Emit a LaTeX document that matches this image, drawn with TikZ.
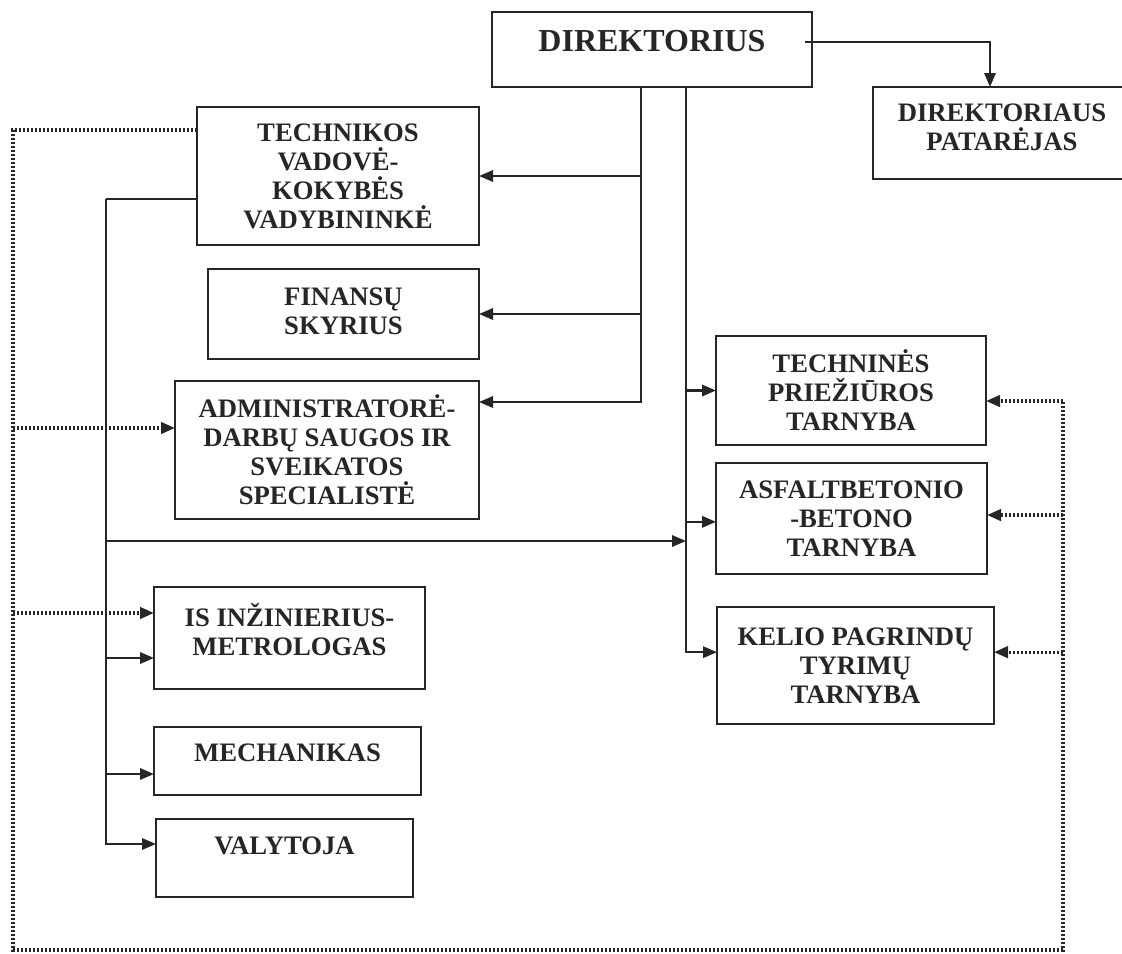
\documentclass[tikz,border=0pt]{standalone}
\usepackage{fontspec}
\setmainfont{Liberation Serif}
\usetikzlibrary{arrows.meta}
\definecolor{ink}{RGB}{38,38,38}
\begin{document}
\begin{tikzpicture}[x=0.75pt,y=-0.75pt,
  box/.style 2 args={draw=ink, line width=1.8pt, minimum width=#1*0.75pt, minimum height=#2*0.75pt, inner sep=0pt, outer sep=0pt},
  txt/.style={font=\bfseries\fontsize{20}{21.75}\selectfont, text=ink, align=center, inner sep=0pt},
  bigtxt/.style={font=\bfseries\fontsize{24}{26}\selectfont, text=ink, align=center, inner sep=0pt},
  conn/.style={draw=ink, line width=1.7pt},
  arr/.style={conn, -{Triangle[length=10.5pt,width=8.5pt]}},
  dotl/.style={draw=ink, line width=2.4pt, dash pattern=on 1.7pt off 1.3pt},
  dotarr/.style={dotl, -{Triangle[length=10.5pt,width=8.5pt]}},
]
\path[use as bounding box, fill=white] (0,0) rectangle (1122,954);

% boxes
\node[box={320}{75}, label={[bigtxt,yshift=6pt]center:DIREKTORIUS}] (dir) at (652,49.5) {};
\node[box={250}{92}, label={[txt,xshift=3pt,yshift=4pt]center:{DIREKTORIAUS\\PATARĖJAS}}] (pat) at (998,133) {};
\node[box={282}{138}, label={[txt]center:{TECHNIKOS\\VADOVĖ-\\KOKYBĖS\\VADYBININKĖ}}] (tech) at (338,176) {};
\node[box={271}{90}, label={[txt,yshift=2pt]center:{FINANSŲ\\SKYRIUS}}] (fin) at (343.5,314) {};
\node[box={304}{138}, label={[txt]center:{ADMINISTRATORĖ-\\DARBŲ SAUGOS IR\\SVEIKATOS\\SPECIALISTĖ}}] (adm) at (327,450) {};
\node[box={271}{102}, label={[txt,yshift=6pt]center:{IS INŽINIERIUS-\\METROLOGAS}}] (isi) at (289.5,638) {};
\node[box={267}{68}, label={[txt,yshift=6pt]center:MECHANIKAS}] (mech) at (287.5,761) {};
\node[box={257}{78}, label={[txt,yshift=9pt]center:VALYTOJA}] (valy) at (284.5,858) {};
\node[box={270}{109}, label={[txt]center:{TECHNINĖS\\PRIEŽIŪROS\\TARNYBA}}] (tpt) at (851,390.5) {};
\node[box={271}{111}, label={[txt]center:{ASFALTBETONIO\\-BETONO\\TARNYBA}}] (asf) at (851.5,518.5) {};
\node[box={277}{117}, label={[txt]center:{KELIO PAGRINDŲ\\TYRIMŲ\\TARNYBA}}] (kel) at (855.5,665.5) {};

% director -> adviser
\draw[arr] ([xshift=-5.25pt,yshift=5.6pt]dir.east) -| ([xshift=-6pt]pat.north);

% bus 1 (left branches)
\coordinate (b1) at (641,87);
\draw[arr] (b1) |- (tech.east);
\draw[arr] (b1) |- (fin.east);
\draw[arr] (b1) |- ([yshift=36pt]adm.east);

% bus 2 (right branches)
\coordinate (b2) at (686,87);
\draw[arr] (b2) |- (tpt.west);
\draw[arr] (b2) |- ([yshift=-2.5pt]asf.west);
\draw[arr] (b2) |- ([yshift=10pt]kel.west);

% bus 3 (from technical head)
\coordinate (b3) at (106,199);
\coordinate (b2m) at (686,541);
\draw[conn] ([yshift=-17.25pt]tech.west) -- (b3);
\draw[arr] (b3) |- (b2m);
\draw[arr] (b3) |- ([yshift=-15pt]isi.west);
\draw[arr] (b3) |- ([yshift=-9.75pt]mech.west);
\draw[arr] (b3) |- ([yshift=10.5pt]valy.west);

% dotted loop
\coordinate (dtl) at (13,130);
\coordinate (dbl) at (13,950);
\coordinate (dbr) at (1063,950);
\coordinate (dtr) at (1063,401);
\coordinate (admin) at ([yshift=16.5pt]adm.west);
\coordinate (isidot) at ([yshift=18.75pt]isi.west);
\coordinate (asfin) at ([yshift=2.6pt]asf.east);
\coordinate (kelin) at ([yshift=10pt]kel.east);
\draw[dotl] (tech.west |- dtl) -- (dtl) -- (dbl) -- (dbr) -- (dtr);
\draw[dotarr] (dtr) -- (dtr -| tpt.east);
\draw[dotarr] (dbr |- asfin) -- (asfin);
\draw[dotarr] (dbr |- kelin) -- (kelin);
\draw[dotarr] (dtl |- admin) -- (admin);
\draw[dotarr] (dtl |- isidot) -- (isidot);
\end{tikzpicture}
\end{document}
